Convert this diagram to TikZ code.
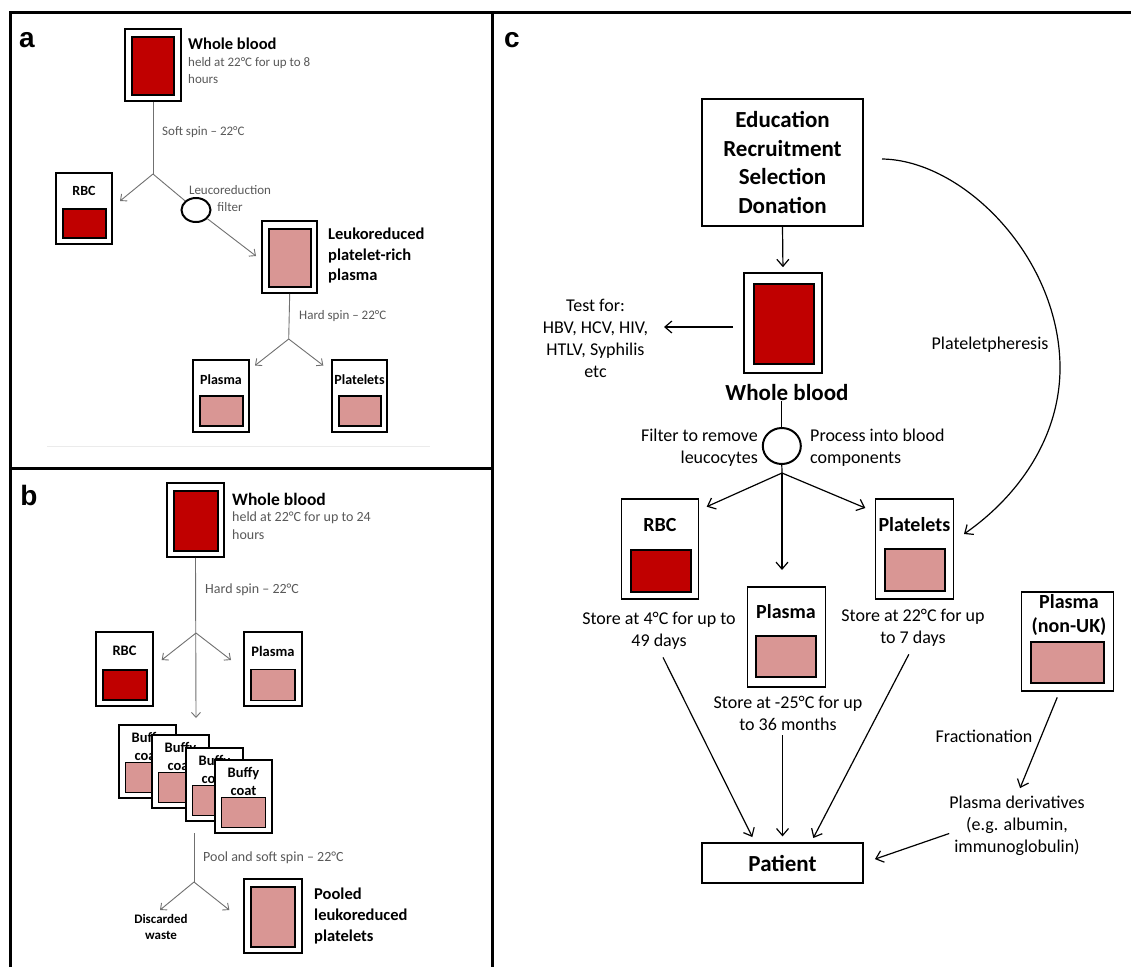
\documentclass[tikz,border=0pt]{standalone}
\usepackage{fontspec}
\setmainfont{Carlito}
\newfontfamily\lblfont{Liberation Sans}
\usetikzlibrary{shapes.geometric,arrows.meta}
\definecolor{bred}{HTML}{C00000}
\definecolor{bpink}{HTML}{D99694}
\definecolor{gtxt}{HTML}{595959}
\definecolor{glin}{HTML}{707070}
\begin{document}
\begin{tikzpicture}[x=1pt,y=-1pt,
  frame/.style={line width=3pt},
  bagout/.style={draw=black,line width=1.6pt,fill=white,inner sep=0pt,rectangle},
  redin/.style={draw=black,line width=1.8pt,fill=bred,inner sep=0pt,rectangle},
  pinkin/.style={draw=black,line width=1.8pt,fill=bpink,inner sep=0pt,rectangle},
  plainbox/.style={draw=black,line width=1.2pt,fill=white,inner sep=0pt,rectangle},
  plab/.style={font=\lblfont\fontsize{28}{28}\selectfont\bfseries,inner sep=0pt},
  hdA/.style={font=\fontsize{16.5}{20.5}\selectfont\bfseries,inner sep=0pt,align=left},
  smA/.style={font=\fontsize{13}{17}\selectfont,text=gtxt,inner sep=0pt,align=left},
  boxA/.style={font=\fontsize{14}{18}\selectfont\bfseries,inner sep=0pt,align=center},
  hdB/.style={font=\fontsize{17.5}{21}\selectfont\bfseries,inner sep=0pt,align=left},
  smB/.style={font=\fontsize{14}{17.5}\selectfont,text=gtxt,inner sep=0pt,align=left},
  boxB/.style={font=\fontsize{14.5}{18}\selectfont\bfseries,inner sep=0pt,align=center},
  txC/.style={font=\fontsize{18}{22}\selectfont,inner sep=0pt,align=center},
  hdC/.style={font=\fontsize{23}{28.5}\selectfont\bfseries,inner sep=0pt,align=center},
  boxC/.style={font=\fontsize{20}{24}\selectfont\bfseries,inner sep=0pt,align=center},
  gl/.style={draw=glin,line width=0.9pt},
  garr/.style={draw=glin,line width=0.9pt,-{Straight Barb[length=5pt,width=9pt]}},
  cl/.style={line width=1.2pt},
  carr/.style={line width=1.2pt,-{Straight Barb[length=7pt,width=12pt]}},
  filt/.style={draw=black,line width=2pt,fill=white,ellipse,inner sep=0pt}
]
\useasboundingbox (0,0) rectangle (1131,967);
\fill[white] (0,0) rectangle (1131,967);

% ---------- frame ----------
\coordinate (fTL) at (10,12);
\coordinate (fTR) at (1131,12);
\coordinate (fBL) at (10,967);
\coordinate (fM1) at (492,12);
\coordinate (fM2) at (492,967);
\coordinate (fH1) at (10,468);
\coordinate (fH2) at (492,468);
\draw[frame] (fBL) -- (fTL) -- (fTR);
\draw[frame] (fM1) -- (fM2);
\draw[frame] (fH1) -- (fH2);

% ---------- panel a ----------
\node[plab] (la) at (27,40) {a};
\node[bagout,minimum width=56,minimum height=72] (aWB) at (153,65) {};
\node[redin,minimum width=42,minimum height=58] (aWBi) at (153,66) {};
\node[hdA,anchor=west] (aWBt) at (188,44) {Whole blood};
\node[smA,anchor=west] (aWBs) at (188,70.5) {held at 22°C for up to 8\\hours};
\node[smA,anchor=west] (aSoft) at (162,132) {Soft spin – 22°C};
\coordinate (aB1) at (153,174);
\coordinate (aT1) at (120,201);
\coordinate (aT2) at (256,256);
\node[filt,minimum width=29,minimum height=24] (aF) at (196,210) {};
\node[smA,align=center] (aFt) at (230,198.7) {Leucoreduction\\filter};
\node[bagout,minimum width=56,minimum height=71] (aRBC) at (84,208.5) {};
\node[boxA] (aRBCt) at (84,191) {RBC};
\node[redin,minimum width=43,minimum height=29] (aRBCi) at (84.5,223.5) {};
\node[bagout,minimum width=55,minimum height=72] (aLR) at (289.7,257) {};
\node[pinkin,minimum width=42,minimum height=58] (aLRi) at (290,258) {};
\node[hdA,anchor=west] (aLRt) at (328,256) {Leukoreduced\\platelet-rich\\plasma};
\coordinate (aB2) at (288.7,339);
\coordinate (aT3) at (255,365.5);
\coordinate (aT4) at (323.3,365.5);
\node[smA,anchor=west] (aHard) at (299,316) {Hard spin – 22°C};
\node[bagout,minimum width=56,minimum height=72] (aPl) at (221,396) {};
\node[boxA] (aPlt) at (221,380) {Plasma};
\node[pinkin,minimum width=43,minimum height=30] (aPli) at (221.5,411) {};
\node[bagout,minimum width=55,minimum height=72] (aPt) at (359.5,396) {};
\node[boxA] (aPtt) at (359.5,380) {Platelets};
\node[pinkin,minimum width=42,minimum height=30] (aPti) at (360,411) {};
\coordinate (aL1) at (47,446);
\coordinate (aL2) at (430,446);
\draw[draw=black!8,line width=1pt] (aL1) -- (aL2);

\draw[gl] (aWB.south) -- (aB1);
\draw[garr] (aB1) -- (aT1);
\draw[gl] (aB1) -- (aF);
\draw[garr] (aF) -- (aT2);
\draw[gl] (aLR.south) -- (aB2);
\draw[garr] (aB2) -- (aT3);
\draw[garr] (aB2) -- (aT4);

% ---------- panel b ----------
\node[plab] (lb) at (29,495.5) {b};
\node[bagout,minimum width=57,minimum height=74] (bWB) at (195.5,520) {};
\node[redin,minimum width=44,minimum height=60] (bWBi) at (196,521) {};
\node[hdB,anchor=west] (bWBt) at (232,499) {Whole blood};
\node[smB,anchor=west] (bWBs) at (232,525.5) {held at 22°C for up to 24\\hours};
\node[smB,anchor=west] (bHard) at (205,590) {Hard spin – 22°C};
\coordinate (bB1) at (196,633);
\coordinate (bT0) at (196,718);
\coordinate (bT1) at (161.7,660);
\coordinate (bT2) at (231,660);
\node[bagout,minimum width=57,minimum height=74] (bRBC) at (124.5,669) {};
\node[boxB] (bRBCt) at (124.5,651) {RBC};
\node[redin,minimum width=44,minimum height=30] (bRBCi) at (125,685) {};
\node[bagout,minimum width=58,minimum height=74] (bPl) at (273,669) {};
\node[boxB] (bPlt) at (273,651) {Plasma};
\node[pinkin,minimum width=44,minimum height=31] (bPli) at (273,685) {};
\draw[garr] (bWB.south) -- (bT0);
\draw[garr] (bB1) -- (bT1);
\draw[garr] (bB1) -- (bT2);

\foreach \i/\l/\t in {1/119/725,2/152/735,3/186/748,4/215/760}{
  \node[bagout,minimum width=57,minimum height=73] (bc\i) at (\l+28.5,\t+36.5) {};
  \node[boxB] (bct\i) at (\l+28.5,\t+21) {Buffy\\coat};
  \node[pinkin,minimum width=44,minimum height=30] (bci\i) at (\l+28.5,\t+52.5) {};
}

\coordinate (bS) at (194,833);
\coordinate (bB2) at (194,882);
\coordinate (bT3) at (160,910);
\coordinate (bT4) at (229.3,910);
\node[smB,anchor=west] (bPool) at (203,858) {Pool and soft spin – 22°C};
\draw[gl] (bS) -- (bB2);
\draw[garr] (bB2) -- (bT3);
\draw[garr] (bB2) -- (bT4);
\node[font=\fontsize{13}{16}\selectfont\bfseries,inner sep=0pt,align=center] (bDis) at (161,927) {Discarded\\waste};
\node[bagout,minimum width=58,minimum height=74] (bPo) at (273,916) {};
\node[pinkin,minimum width=44,minimum height=60] (bPoi) at (273,917) {};
\node[hdA,anchor=west,font=\fontsize{16.5}{21}\selectfont\bfseries] (bPot) at (314,915.7) {Pooled\\leukoreduced\\platelets};

% ---------- panel c ----------
\node[plab] (lc) at (512,40) {c};
\node[plainbox,hdC,minimum width=161,minimum height=127] (cEd) at (782.5,162.5) {Education\\Recruitment\\Selection\\Donation};
\node[bagout,minimum width=78,minimum height=100] (cWB) at (783,323) {};
\node[redin,minimum width=60,minimum height=80] (cWBi) at (783.7,324) {};
\draw[carr,shorten >=5pt] (cEd.south) -- (cWB.north);
\node[txC] (cTest) at (595.5,338) {Test for:\\HBV, HCV, HIV,\\HTLV, Syphilis\\etc};
\coordinate (cTa) at (664,327);
\draw[carr] ([xshift=-10pt,yshift=-4pt]cWB.west) -- (cTa);
\node[hdC] (cWBt) at (787,393) {Whole blood};
\node[filt,minimum width=38,minimum height=36] (cF) at (781.8,446) {};
\draw[cl] (cWBt.south -| cF.north) -- (cF.north);
\node[txC,align=right,anchor=east] (cFt) at (758,447.5) {Filter to remove\\leucocytes};
\node[txC,align=left,anchor=west] (cPt2) at (810,447.5) {Process into blood\\components};
\coordinate (cB) at (782,473);
\coordinate (cT1) at (706.7,506.7);
\coordinate (cT2) at (865.3,508);
\coordinate (cT3) at (782,570);
\draw[cl] (cF.south) -- (cB);
\draw[carr] (cB) -- (cT1);
\draw[carr] (cB) -- (cT2);
\draw[carr] (cB) -- (cT3);

\node[bagout,minimum width=77,minimum height=100] (cRBC) at (660,549) {};
\node[boxC] (cRBCt) at (660,525) {RBC};
\node[redin,minimum width=60,minimum height=42] (cRBCi) at (661,571) {};
\node[bagout,minimum width=78,minimum height=100] (cPt) at (914.4,549) {};
\node[boxC] (cPtt) at (914.4,525) {Platelets};
\node[pinkin,minimum width=60,minimum height=42] (cPti) at (914.8,570) {};
\node[bagout,minimum width=78,minimum height=100] (cPl) at (786.4,637) {};
\node[boxC] (cPlt) at (786,612) {Plasma};
\node[pinkin,minimum width=60,minimum height=41] (cPli) at (785.8,656.5) {};
\node[bagout,minimum width=92,minimum height=99] (cNU) at (1067.5,641.5) {};
\node[boxC] (cNUt) at (1069,615) {Plasma\\(non-UK)};
\node[pinkin,minimum width=73,minimum height=41] (cNUi) at (1067.8,662.5) {};

\node[txC] (cS1) at (659,630.5) {Store at 4°C for up to\\49 days};
\node[txC] (cS2) at (788,713) {Store at -25°C for up\\to 36 months};
\node[txC] (cS3) at (913,627.5) {Store at 22°C for up\\to 7 days};

\node[plainbox,hdC,minimum width=161,minimum height=40] (cPat) at (782.5,863) {Patient};
\draw[carr,shorten <=9pt,shorten >=6pt] (cS1.south) -- ([xshift=-27.5pt]cPat.north);
\draw[carr,shorten <=5pt,shorten >=6pt] (cS2.south -| cPat.north) -- (cPat.north);
\draw[carr,shorten <=9pt,shorten >=5pt] (cS3.south) -- ([xshift=28.5pt]cPat.north);

\node[txC] (cFr) at (984,736) {Fractionation};
\node[txC] (cDer) at (1017,825.5) {Plasma derivatives\\(e.g. albumin,\\immunoglobulin)};
\draw[carr,shorten <=6pt,shorten >=8pt] ([xshift=-8pt]cNU.south) -- (cDer.north);
\draw[carr,shorten >=12pt] ([yshift=-8pt]cDer.west) -- (cPat.east);

\node[txC] (cPph) at (990,345) {Plateletpheresis};
\coordinate (cCs) at (882,159);
\coordinate (cCe) at (964,534);
\draw[carr] (cCs) .. controls (962,160) and (1058,255) .. (1060,365) .. controls (1061,435) and (1020,495) .. (cCe);
\end{tikzpicture}
\end{document}
